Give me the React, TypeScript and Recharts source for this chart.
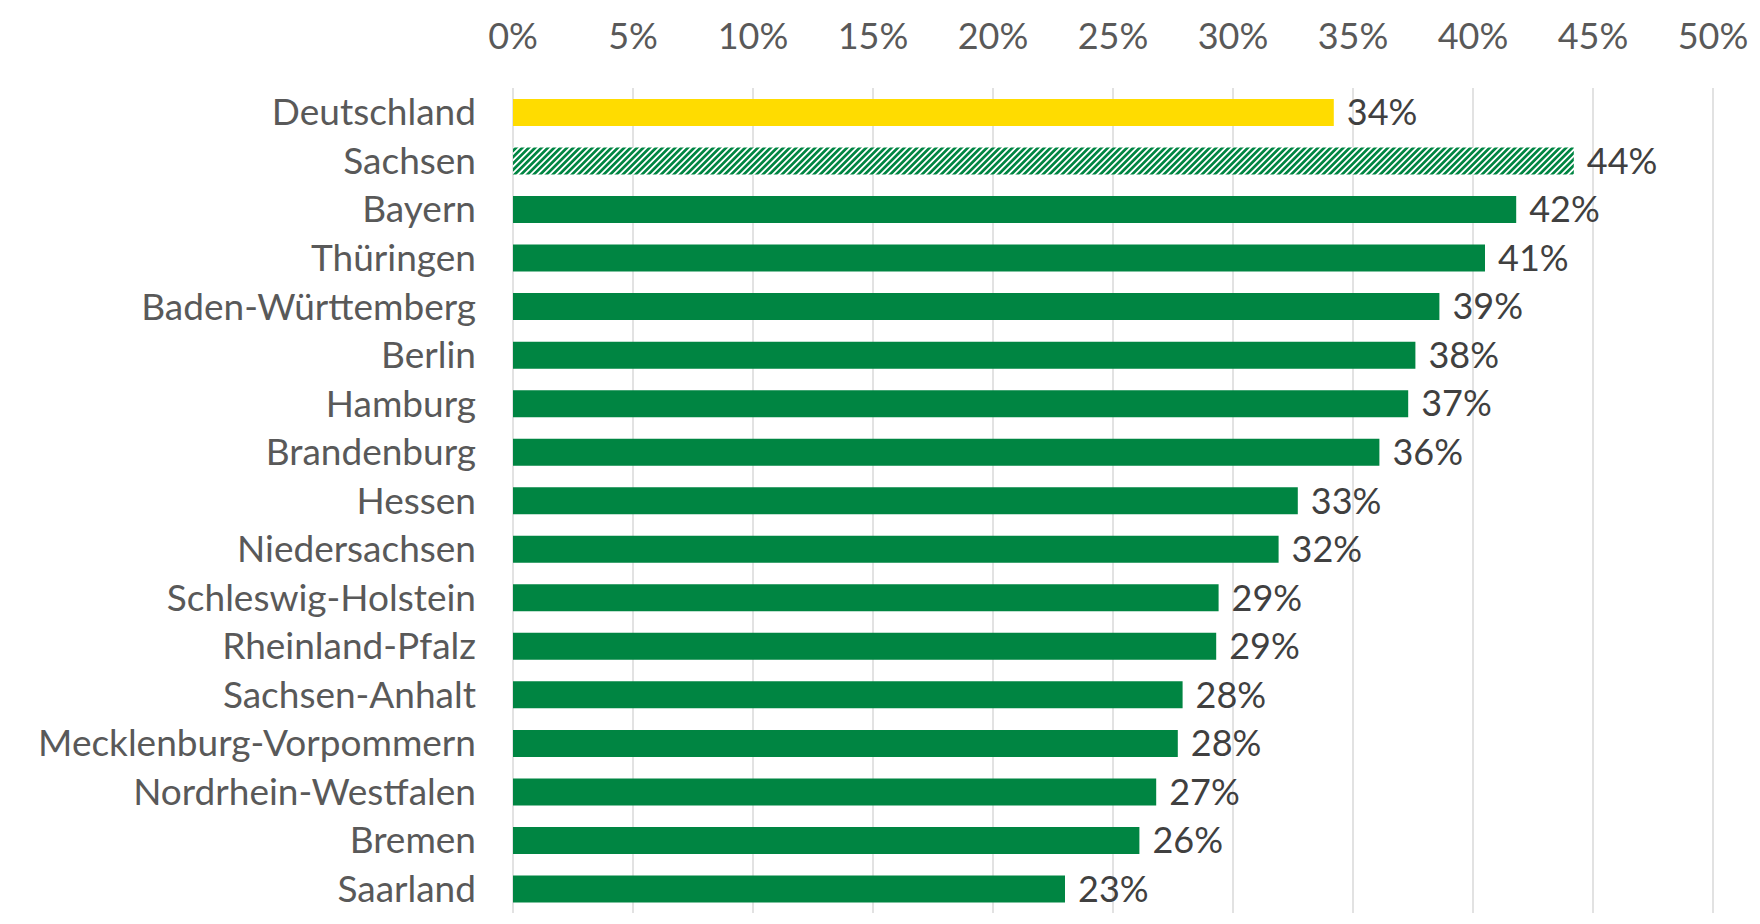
import { BarChart, Bar, XAxis, YAxis, CartesianGrid, Cell, LabelList } from "recharts";

const states = [
  "Deutschland",
  "Sachsen",
  "Bayern",
  "Thüringen",
  "Baden-Württemberg",
  "Berlin",
  "Hamburg",
  "Brandenburg",
  "Hessen",
  "Niedersachsen",
  "Schleswig-Holstein",
  "Rheinland-Pfalz",
  "Sachsen-Anhalt",
  "Mecklenburg-Vorpommern",
  "Nordrhein-Westfalen",
  "Bremen",
  "Saarland",
];

const shares = [
  0.342, 0.442, 0.418, 0.405, 0.386, 0.376, 0.373, 0.361, 0.327, 0.319, 0.294,
  0.293, 0.279, 0.277, 0.268, 0.261, 0.23,
];

const xTicks = [0, 0.05, 0.1, 0.15, 0.2, 0.25, 0.3, 0.35, 0.4, 0.45, 0.5];

const data = states.map((name, i) => ({ name, value: shares[i] }));

const YELLOW = "#FFDC00";
const GREEN = "#008542";
const FONT = "Lato, 'Noto Sans', sans-serif";

const pct = (v: number) => `${Math.round(v * 100)}%`;

export default function App() {
  return (
    <div style={{ margin: -8, fontFamily: FONT }}>
      <BarChart
        width={1760}
        height={924}
        data={data}
        layout="vertical"
        margin={{ top: 0, right: 47, bottom: 11, left: 0 }}
        barSize={27}
      >
        <defs>
          <pattern
            id="hatch"
            width={4.5}
            height={4.5}
            patternUnits="userSpaceOnUse"
            patternTransform="rotate(45)"
          >
            <rect width={4.5} height={4.5} fill="#ffffff" />
            <line x1={1.3} y1={0} x2={1.3} y2={4.5} stroke={GREEN} strokeWidth={2.8} />
          </pattern>
        </defs>
        <CartesianGrid horizontal={false} stroke="#d9d9d9" strokeWidth={1.5} />
        <XAxis
          type="number"
          orientation="top"
          domain={[0, 0.5]}
          ticks={xTicks}
          tickFormatter={pct}
          height={88}
          axisLine={false}
          tickLine={false}
          tickSize={0}
          tickMargin={39}
          tick={{ fontSize: 36, fill: "#595959", fontFamily: FONT }}
        />
        <YAxis
          type="category"
          dataKey="name"
          width={513}
          axisLine={false}
          tickLine={false}
          tickSize={0}
          tickMargin={37}
          interval={0}
          tick={{ fontSize: 37, fill: "#595959", fontFamily: FONT }}
        />
        <Bar dataKey="value" isAnimationActive={false}>
          {data.map((d, i) => (
            <Cell
              key={d.name}
              fill={i === 0 ? YELLOW : i === 1 ? "url(#hatch)" : GREEN}
            />
          ))}
          <LabelList
            dataKey="value"
            position="right"
            offset={13}
            formatter={(v: any) => pct(Number(v))}
            style={{ fontSize: 36, fill: "#404040", fontFamily: FONT }}
          />
        </Bar>
      </BarChart>
    </div>
  );
}
